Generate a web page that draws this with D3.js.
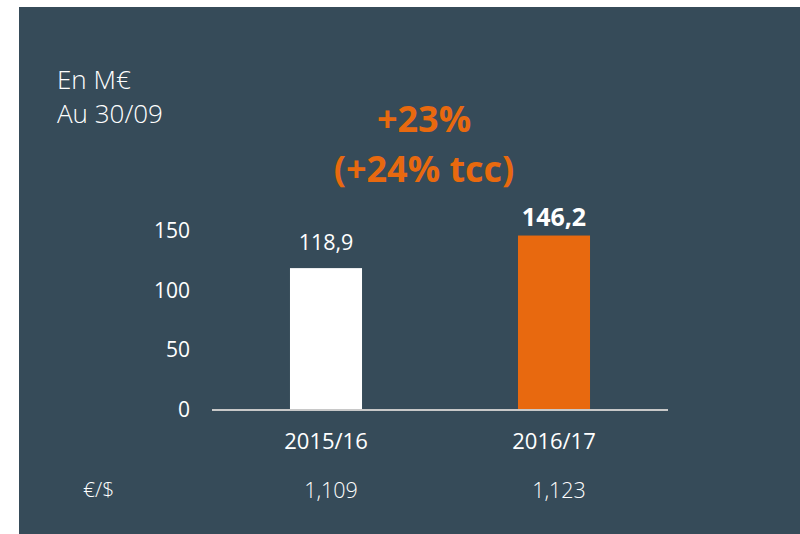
<!DOCTYPE html>
<html>
<head>
<meta charset="utf-8">
<script src="https://cdn.jsdelivr.net/npm/d3@7"></script>
<style>
  html, body { margin: 0; padding: 0; background: #fff; }
  svg { display: block; font-family: "Open Sans", sans-serif; }
</style>
</head>
<body>
<svg id="chart" width="800" height="534"></svg>
<script>
// chart data
const periods = ["2015/16", "2016/17"];
const revenue = [118.9, 146.2];
const revenueLabels = ["118,9", "146,2"];
const fxRates = ["1,109", "1,123"];
const yTicks = [0, 50, 100, 150];
const growthLines = ["+23%", "(+24% tcc)"];
const noteLines = ["En M€", "Au 30/09"];

const ORANGE = "#E8690F";
const BG = "#364B59";

const svg = d3.select("#chart");

// dark panel
svg.append("rect")
    .attr("x", 19).attr("y", 7)
    .attr("width", 781).attr("height", 527)
    .attr("fill", BG);

const x = d3.scaleBand()
    .domain(periods)
    .range([212, 668])
    .paddingInner(0.684)
    .paddingOuter(0.342);

const y = d3.scaleLinear()
    .domain([0, 150])
    .range([410, 231]);

// y tick labels
svg.append("g")
    .selectAll("text")
    .data(yTicks)
    .join("text")
    .attr("x", 190)
    .attr("y", d => y(d) + 7)
    .attr("text-anchor", "end")
    .attr("fill", "#fff")
    .attr("font-size", 21)
    .text(d => d);

// bars
svg.append("g")
    .selectAll("rect")
    .data(revenue)
    .join("rect")
    .attr("x", (d, i) => x(periods[i]))
    .attr("y", d => y(d))
    .attr("width", x.bandwidth())
    .attr("height", d => y(0) - y(d))
    .attr("fill", (d, i) => i === 1 ? ORANGE : "#fff");

// baseline
svg.append("line")
    .attr("x1", 212).attr("x2", 668)
    .attr("y1", y(0)).attr("y2", y(0))
    .attr("stroke", "#c8c8c8")
    .attr("stroke-width", 2);

// value labels
svg.append("g")
    .selectAll("text")
    .data(revenue)
    .join("text")
    .attr("x", (d, i) => x(periods[i]) + x.bandwidth() / 2)
    .attr("y", (d, i) => y(d) - (i === 1 ? 10 : 18))
    .attr("text-anchor", "middle")
    .attr("fill", "#fff")
    .attr("font-size", (d, i) => i === 1 ? 25 : 21.5)
    .attr("font-weight", (d, i) => i === 1 ? 700 : 400)
    .text((d, i) => revenueLabels[i]);

// category labels
svg.append("g")
    .selectAll("text")
    .data(periods)
    .join("text")
    .attr("x", d => x(d) + x.bandwidth() / 2)
    .attr("y", 449)
    .attr("text-anchor", "middle")
    .attr("fill", "#fff")
    .attr("font-size", 22)
    .text(d => d);

// exchange rate row
svg.append("text")
    .attr("x", 83).attr("y", 497)
    .attr("fill", "#fff")
    .attr("font-size", 21)
    .attr("font-weight", 300)
    .text("€/$");

svg.append("g")
    .selectAll("text")
    .data(fxRates)
    .join("text")
    .attr("x", (d, i) => x(periods[i]) + x.bandwidth() / 2 + 5)
    .attr("y", 498)
    .attr("text-anchor", "middle")
    .attr("fill", "#fff")
    .attr("font-size", 21.5)
    .attr("font-weight", 300)
    .text(d => d);

// top-left note
svg.append("g")
    .selectAll("text")
    .data(noteLines)
    .join("text")
    .attr("x", 57)
    .attr("y", (d, i) => 89 + i * 34)
    .attr("fill", "#fff")
    .attr("font-size", 26)
    .attr("font-weight", 300)
    .text(d => d);

// growth callout
svg.append("g")
    .selectAll("text")
    .data(growthLines)
    .join("text")
    .attr("x", 424)
    .attr("y", (d, i) => 132 + i * 50)
    .attr("text-anchor", "middle")
    .attr("fill", ORANGE)
    .attr("font-size", 36)
    .attr("font-weight", 700)
    .text(d => d);
</script>
</body>
</html>
